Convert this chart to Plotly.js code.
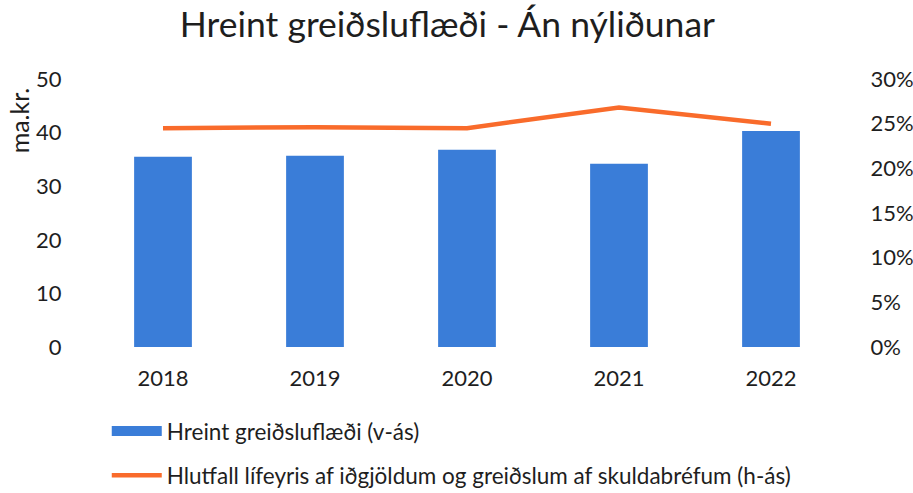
<!DOCTYPE html>
<html><head><meta charset="utf-8">
<script src="https://cdn.plot.ly/plotly-3.0.1.min.js"></script>
<style>body{margin:0;background:#fff}#c{width:913px;height:493px}</style>
</head><body><div id="c"></div>
<script>
var years = ['2018','2019','2020','2021','2022'];
var cashflow = [35.5, 35.7, 36.8, 34.2, 40.3];
var ratio = [0.245, 0.246, 0.245, 0.268, 0.250];
var leftTicks = [0,10,20,30,40,50];
var rightTicks = [0,0.05,0.10,0.15,0.20,0.25,0.30];
var rightLabels = ['0%','5%','10%','15%','20%','25%','30%'];
var barName = 'Hreint greiðsluflæði (v-ás)';
var lineName = 'Hlutfall lífeyris af iðgjöldum og greiðslum af skuldabréfum (h-ás)';

var F = 'Lato, "Open Sans", sans-serif';
var C = '#1e1e1e';
var traces = [
  {type:'bar', x:years, y:cashflow, name:barName, marker:{color:'#3a7dd8'}, width:0.38, showlegend:false, hoverinfo:'none'},
  {type:'scatter', mode:'lines', x:[null], y:[null], name:barName, line:{color:'#3a7dd8', width:12}, legendgroup:'a', hoverinfo:'none'},
  {type:'scatter', mode:'lines', x:years, y:ratio, yaxis:'y2', name:lineName, line:{color:'#f96b2b', width:4.5}, legendgroup:'b', hoverinfo:'none'}
];
var layout = {
  width:913, height:493,
  margin:{l:87, r:66, t:79, b:146, autoexpand:false},
  paper_bgcolor:'#fff', plot_bgcolor:'#fff',
  font:{family:F, size:22, color:C},
  title:{text:'Hreint greiðsluflæði - Án nýliðunar', font:{family:F, size:35.5, color:C}, x:0.49, xanchor:'center', y:0.95, yanchor:'middle'},
  showlegend:true,
  legend:{x:0.026, xanchor:'left', y:-0.235, yanchor:'top', orientation:'v', traceorder:'grouped', tracegroupgap:12, itemwidth:50, font:{family:F, size:22.5, color:C}, bgcolor:'rgba(0,0,0,0)'},
  xaxis:{type:'category', showgrid:false, zeroline:false, showline:false, ticks:'outside', ticklen:12, tickcolor:'rgba(0,0,0,0)', tickfont:{family:F, size:22, color:C}},
  yaxis:{range:[0,50], tickvals:leftTicks, showgrid:false, zeroline:false, showline:false, ticks:'outside', ticklen:20, tickcolor:'rgba(0,0,0,0)', tickfont:{family:F, size:22, color:C}},
  yaxis2:{overlaying:'y', side:'right', range:[0,0.30], tickvals:rightTicks, ticktext:rightLabels, showgrid:false, zeroline:false, showline:false, ticks:'outside', ticklen:18, tickcolor:'rgba(0,0,0,0)', tickfont:{family:F, size:22, color:C}},
  annotations:[{text:'ma.kr.', xref:'paper', yref:'paper', x:-0.089, y:0.847, xanchor:'center', yanchor:'middle', textangle:-90, showarrow:false, font:{family:F, size:25, color:C}}]
};
Plotly.newPlot('c', traces, layout, {displayModeBar:false, staticPlot:true});
</script></body></html>
